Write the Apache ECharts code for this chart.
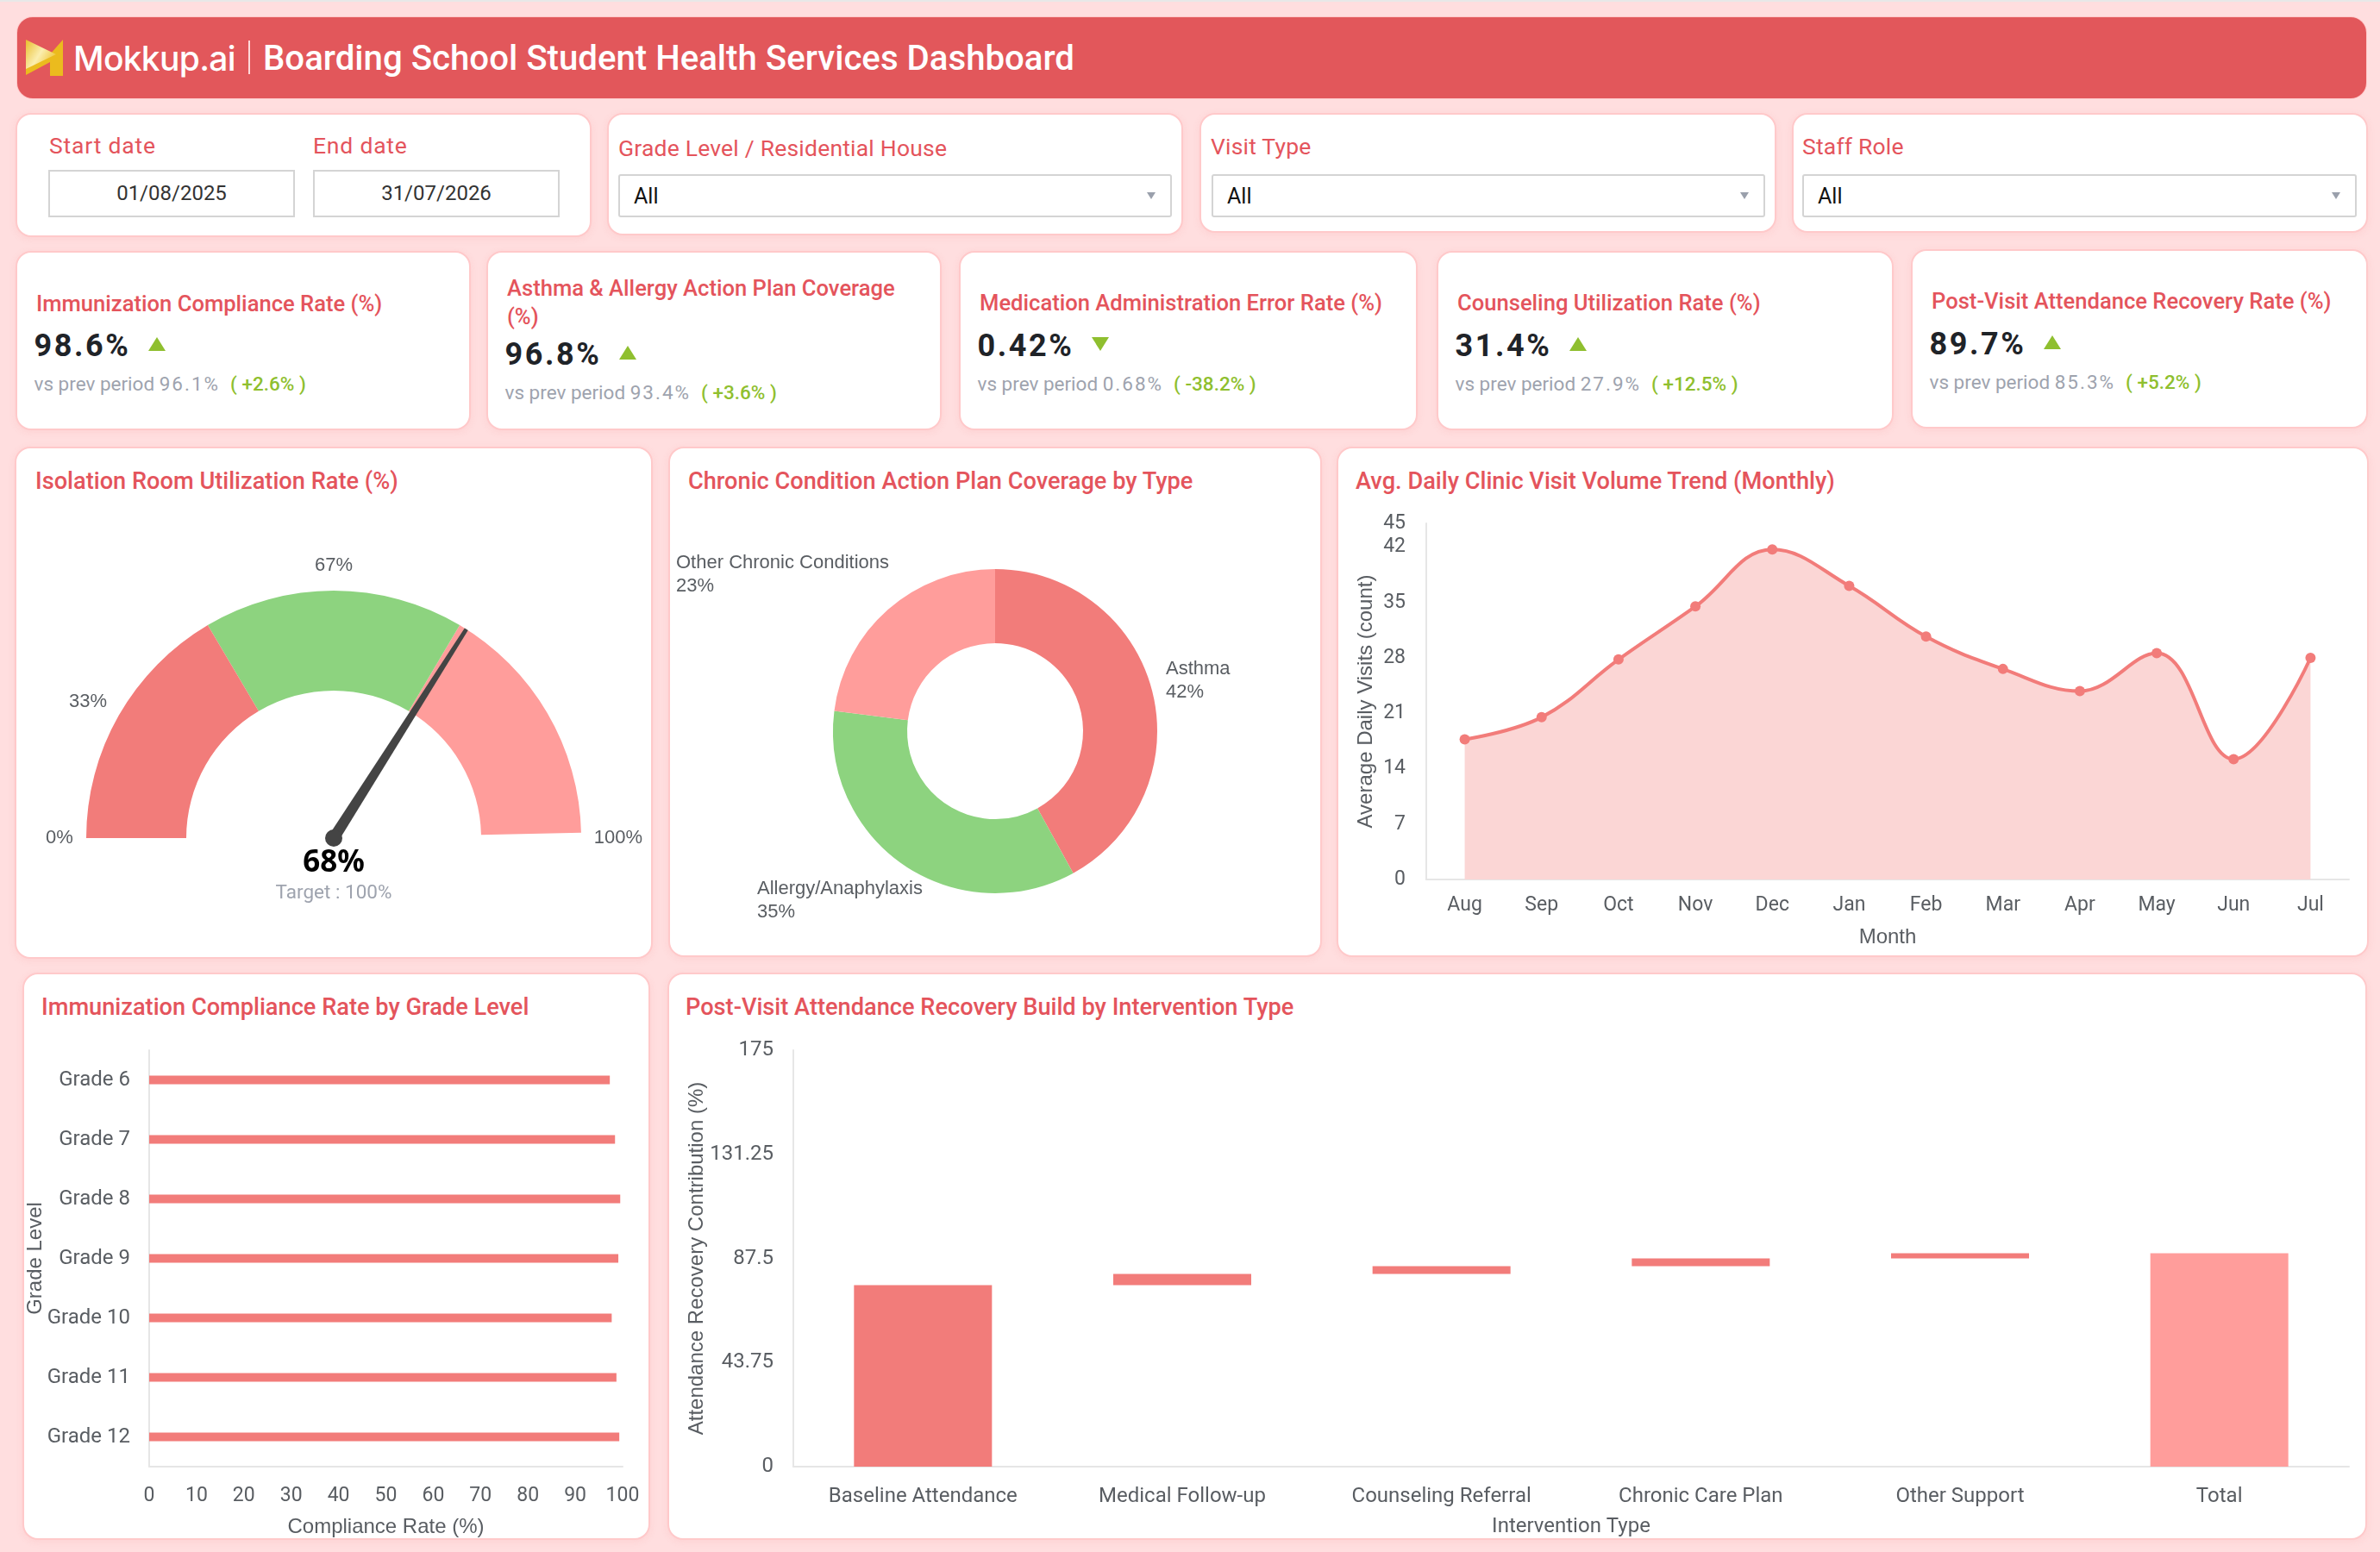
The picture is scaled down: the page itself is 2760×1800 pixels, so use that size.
<!DOCTYPE html>
<html>
<head>
<meta charset="utf-8">
<title>Boarding School Student Health Services Dashboard</title>
<script src="https://cdn.jsdelivr.net/npm/echarts@6/dist/echarts.min.js"></script>
<style>
	html, body { margin: 0; padding: 0; }
	body { width: 2760px; height: 1800px; position: relative; overflow: hidden; background: #ffdedf; font-family: Roboto, sans-serif; border-top: 2px solid #e8e8e8; box-sizing: border-box; }
	#page { position: absolute; left: 0; top: -2px; width: 2760px; height: 1800px; }
	.card { position: absolute; box-sizing: border-box; background: #fff; border: 2px solid #ffc9ca; border-radius: 18px; box-shadow: 0 2px 8px rgba(240, 120, 120, .12); }
	.txt { position: absolute; white-space: nowrap; line-height: 1; }
	.head { position: absolute; left: 20px; top: 20px; width: 2724px; height: 94px; box-sizing: border-box; background: #e2575b; border-radius: 18px; box-shadow: 0 0 0 1px #ffc9ca; }
	.ttl { font-size: 27.2px; font-weight: 500; color: #e4545c; }
	.kttl { font-size: 25.6px; font-weight: 500; color: #e4545c; }
	.flt { font-size: 26.5px; color: #e4545c; letter-spacing: .2px; }
	.box { position: absolute; box-sizing: border-box; background: #fff; border: 2px solid #d4d4d4; }
	.val { font-size: 36px; font-weight: 700; color: #1f2328; letter-spacing: 2.6px; }
	.sub { font-size: 22.5px; color: #9ea3ae; }
	.sub b { font-weight: 400; letter-spacing: 2px; }
	.sub i { font-style: normal; font-weight: 500; color: #8fbf2f; margin-left: 12px; }
	.chart { position: absolute; }
</style>
</head>
<body>
<div id="page"></div>
<script>
"use strict";

var RED = '#f27c7a', GREEN = '#8dd37f', PINK = '#ff9d9b', TICK = '#595d62', AXIS = '#e6e6e6';

var kpiNames = ['Immunization Compliance Rate (%)', 'Asthma & Allergy Action Plan Coverage<br>(%)', 'Medication Administration Error Rate (%)', 'Counseling Utilization Rate (%)', 'Post-Visit Attendance Recovery Rate (%)'];
var kpiValues = ['98.6%', '96.8%', '0.42%', '31.4%', '89.7%'];
var kpiPrev = ['96.1%', '93.4%', '0.68%', '27.9%', '85.3%'];
var kpiChange = ['+2.6%', '+3.6%', '-38.2%', '+12.5%', '+5.2%'];

var gaugeValue = [68];
var gaugeStops = [0.33, 0.67, 0.993, 1];
var gaugeTicks = ['0%', '33%', '67%', '100%'];

var coverageNames = ['Asthma', 'Allergy/Anaphylaxis', 'Other Chronic Conditions'];
var coverageValues = [42, 35, 23];

var months = ['Aug', 'Sep', 'Oct', 'Nov', 'Dec', 'Jan', 'Feb', 'Mar', 'Apr', 'May', 'Jun', 'Jul'];
var visits = [17.7, 20.5, 27.8, 34.5, 41.7, 37.1, 30.7, 26.6, 23.8, 28.6, 15.2, 28];

var grades = ['Grade 6', 'Grade 7', 'Grade 8', 'Grade 9', 'Grade 10', 'Grade 11', 'Grade 12'];
var compliance = [97.3, 98.4, 99.5, 99.1, 97.7, 98.7, 99.3];

var interventions = ['Baseline Attendance', 'Medical Follow-up', 'Counseling Referral', 'Chronic Care Plan', 'Other Support', 'Total'];
var recoveryOffset = [0, 76.3, 81, 84.2, 87.5, 0];
var recoveryStep = [76.3, 4.7, 3.2, 3.3, 2.2, 89.7];

var page = document.getElementById('page');

function el(cls, x, y, w, h) {
	var d = document.createElement('div');
	d.className = cls;
	d.style.left = x + 'px';
	d.style.top = y + 'px';
	if (w) d.style.width = w + 'px';
	if (h) d.style.height = h + 'px';
	page.appendChild(d);
	return d;
}

// text placed by its vertical centre
function text(cls, x, cy, html, size) {
	var d = el('txt ' + cls, x, cy);
	d.innerHTML = html;
	d.style.transform = 'translateY(-50%)';
	if (size) d.style.fontSize = size + 'px';
	return d;
}

function card(x, y, x2, y2) {
	return el('card', x - 2, y - 2, x2 - x + 4, y2 - y + 4);
}

function caret(x, y) {
	var d = el('', x - 6, y - 4);
	d.style.cssText += 'position:absolute;width:0;height:0;border-left:5px solid transparent;border-right:5px solid transparent;border-top:8px solid #9aa0ac;';
}

function select(label, lx, ly, x, x2) {
	text('flt', lx, ly, label);
	el('box', x, 202, x2 - x, 50).style.borderRadius = '3px';
	var all = text('', x + 18, 227, 'All', 25);
	all.style.color = '#111';
	caret(x2 - 23, 227);
}

// header
var head = document.createElement('div');
head.className = 'head';
page.appendChild(head);
var logo = el('', 30, 46, 44, 42);
logo.style.position = 'absolute';
logo.innerHTML = '<svg width="44" height="42" viewBox="0 0 44 42"><defs><linearGradient id="g" x1="0" y1="0" x2="1" y2=".6"><stop offset="0" stop-color="#e9bd2b"/><stop offset=".55" stop-color="#fbeeb0"/><stop offset="1" stop-color="#efc63a"/></linearGradient></defs><polygon points="43,0 43,42 28,42 28,26 0,41 0,24 13,17 28,17" fill="#ebbb1e"/><polygon points="0,0 35,17 0,34" fill="url(#g)"/></svg>';
var brand = text('', 85, 67, 'Mokkup.ai', 39);
brand.style.cssText += 'color:#fff;font-family:Inter,Roboto,sans-serif;font-weight:500;letter-spacing:-.7px;';
var rule = el('', 288, 47, 1, 39);
rule.style.cssText += 'position:absolute;background:#ffd9d9;width:2px;';
var title = text('', 305, 68, 'Boarding School Student Health Services Dashboard', 40.2);
title.style.cssText += 'color:#fff;font-weight:500;';

// filters
card(20, 133, 684, 273);
card(706, 133, 1370, 271);
card(1393, 133, 2058, 268);
card(2080, 133, 2744, 268);
text('flt', 57, 169, 'Start date').style.letterSpacing = '.8px';
text('flt', 363, 169, 'End date').style.letterSpacing = '.8px';
['01/08/2025', '31/07/2026'].forEach(function (date, i) {
	var x = i ? 363 : 56;
	var box = el('box', x, 197, 286, 55);
	box.style.cssText += 'font-size:24px;color:#333;line-height:51px;text-align:center;';
	box.textContent = date;
});
select('Grade Level / Residential House', 717, 172, 717, 1359);
select('Visit Type', 1404, 170, 1405, 2047);
select('Staff Role', 2090, 170, 2090, 2733);

// kpi cards
var kpiBox = [[20, 544, 293, 497], [566, 1090, 293, 497], [1114, 1642, 293, 497], [1668, 2194, 293, 497], [2218, 2744, 291, 495]];
var kpiLeft = [40, 586, 1134, 1688, 2238];
var kpiTitleY = [352, 335, 351, 351, 349];
var kpiValueY = [399, 409, 399, 399, 397];
var kpiUp = [true, true, false, true, true];
var valueRight = [182, 728, 1276, 1830, 2380];

kpiNames.forEach(function (name, i) {
	var b = kpiBox[i], x = kpiLeft[i], t;
	card(b[0], b[2], b[1], b[3]);
	t = text('kttl', x + 2, kpiTitleY[i], name);
	t.style.lineHeight = '33px';
	if (i === 1) t.style.top = '318px', t.style.transform = 'none';
	text('val', x - 0.5, kpiValueY[i] + 1.5, kpiValues[i]);
	var a = el('', valueRight[i] - 10, kpiValueY[i] - 8);
	a.style.cssText += 'position:absolute;width:0;height:0;border-left:10px solid transparent;border-right:10px solid transparent;';
	a.style[kpiUp[i] ? 'borderBottom' : 'borderTop'] = '16px solid #8fbf2f';
	text('sub', x - 0.5, kpiValueY[i] + 46, 'vs prev period <b>' + kpiPrev[i] + '</b><i>( ' + kpiChange[i] + ' )</i>');
});

// chart cards
var boxes = {
	gauge: [19, 520, 755, 1110],
	pie: [777, 520, 1531, 1108],
	line: [1552, 520, 2745, 1108],
	bar: [28, 1130, 752, 1784],
	fall: [776, 1130, 2743, 1784]
};

function chartIn(b, heading, tx, ty) {
	card(b[0], b[1], b[2], b[3]);
	text('ttl', tx, ty, heading);
	var d = el('chart', b[0], b[1], b[2] - b[0], b[3] - b[1]);
	return echarts.init(d);
}

function axisFont(size) {
	return { color: TICK, fontFamily: 'Roboto', fontSize: size || 23 };
}

function nameFont() {
	return { color: TICK, fontFamily: 'Liberation Sans', fontSize: 24 };
}

var tickSpots = [[50, 452], [83, 294], [368, 136], [698, 452]];
var gauge = chartIn(boxes.gauge, 'Isolation Room Utilization Rate (%)', 41, 558.5);
gauge.setOption({
	animation: false,
	graphic: gaugeTicks.map(function (t, i) {
		return {
			type: 'text', x: tickSpots[i][0], y: tickSpots[i][1],
			style: { text: t, align: 'center', verticalAlign: 'middle', fill: TICK, font: '22px "Liberation Sans"' }
		};
	}),
	series: [{
		type: 'gauge', center: [368, 452], radius: 287, startAngle: 180, endAngle: 0,
		min: 0, max: 100,
		axisLine: { lineStyle: { width: 116, color: [[gaugeStops[0], RED], [gaugeStops[1], GREEN], [gaugeStops[2], PINK], [gaugeStops[3], 'rgba(0,0,0,0)']] } },
		axisTick: { show: false }, splitLine: { show: false }, axisLabel: { show: false },
		pointer: { icon: 'path://M3.2,0 L6.8,0 L10,100 L0,100 Z', length: '100%', width: 13, itemStyle: { color: '#444' } },
		anchor: { show: true, showAbove: true, size: 20, itemStyle: { color: '#444' } },
		title: { offsetCenter: [0, 64], color: '#9ea3ae', fontFamily: 'Roboto', fontSize: 22.5 },
		detail: { offsetCenter: [0, 29], formatter: '{value}%', color: '#000', fontFamily: 'Noto Sans', fontWeight: 700, fontSize: 35 },
		data: [{ value: gaugeValue[0], name: 'Target : 100%' }]
	}]
});

var labelSpots = [{ x: 575, y: 269 }, { x: 101, y: 524.5 }, { x: 7, y: 146 }];
var pie = chartIn(boxes.pie, 'Chronic Condition Action Plan Coverage by Type', 798, 558.5);
pie.setOption({
	animation: false,
	series: [{
		type: 'pie', center: [377, 328], radius: [102, 188], startAngle: 90, clockwise: true,
		color: [RED, GREEN, PINK],
		label: { formatter: '{b}\n{c}%', overflow: 'none', color: TICK, fontFamily: 'Liberation Sans', fontSize: 22, lineHeight: 27 },
		labelLine: { show: false },
		labelLayout: function (p) {
			var s = labelSpots[p.dataIndex];
			return { x: s.x, y: s.y, align: 'left', verticalAlign: 'middle' };
		},
		data: coverageNames.map(function (n, i) {
			return { name: n, value: coverageValues[i] };
		})
	}]
});

var line = chartIn(boxes.line, 'Avg. Daily Clinic Visit Volume Trend (Monthly)', 1572, 558.5);
line.setOption({
	animation: false,
	grid: { left: 102, right: 21, top: 87, bottom: 88, outerBoundsMode: 'none' },
	xAxis: {
		type: 'category', data: months, name: 'Month', nameLocation: 'middle', nameGap: 55, nameMoveOverlap: false, nameTextStyle: nameFont(),
		axisTick: { show: false }, axisLine: { lineStyle: { color: AXIS, width: 2 } },
		axisLabel: Object.assign(axisFont(), { margin: 19, interval: 0 })
	},
	yAxis: {
		type: 'value', min: 0, max: 45, interval: 7, name: 'Average Daily Visits (count)', nameLocation: 'middle', nameGap: 58, nameMoveOverlap: false, nameTextStyle: nameFont(),
		splitLine: { show: false }, axisTick: { show: false },
		axisLine: { show: true, lineStyle: { color: AXIS, width: 2 } },
		axisLabel: Object.assign(axisFont(), { margin: 24 })
	},
	series: [{
		type: 'line', data: visits, smooth: 0.4, symbol: 'circle', symbolSize: 12,
		lineStyle: { color: RED, width: 4 }, itemStyle: { color: RED },
		areaStyle: { color: '#fbd6d5', opacity: 1 }
	}]
});

var bar = chartIn(boxes.bar, 'Immunization Compliance Rate by Grade Level', 48, 1168.5);
bar.setOption({
	animation: false,
	grid: { left: 145, right: 30, top: 88, bottom: 83, outerBoundsMode: 'none' },
	xAxis: {
		type: 'value', min: 0, max: 100, interval: 10, name: 'Compliance Rate (%)', nameLocation: 'middle', nameGap: 58, nameMoveOverlap: false, nameTextStyle: nameFont(),
		splitLine: { show: false }, axisTick: { show: false },
		axisLine: { show: true, lineStyle: { color: AXIS, width: 2 } },
		axisLabel: Object.assign(axisFont(), { margin: 23 })
	},
	yAxis: {
		type: 'category', data: grades, inverse: true, name: 'Grade Level', nameLocation: 'middle', nameGap: 120, nameMoveOverlap: false, nameTextStyle: nameFont(),
		axisTick: { show: false }, axisLine: { lineStyle: { color: AXIS, width: 2 } },
		axisLabel: Object.assign(axisFont(24), { margin: 22, interval: 0 })
	},
	series: [{ type: 'bar', data: compliance, barWidth: 10, itemStyle: { color: RED } }]
});

var fall = chartIn(boxes.fall, 'Post-Visit Attendance Recovery Build by Intervention Type', 795, 1168.5);
fall.setOption({
	animation: false,
	grid: { left: 144, right: 19, top: 88, bottom: 83, outerBoundsMode: 'none' },
	xAxis: {
		type: 'category', data: interventions, name: 'Intervention Type', nameLocation: 'middle', nameGap: 58, nameMoveOverlap: false, nameTextStyle: axisFont(24),
		axisTick: { show: false }, axisLine: { lineStyle: { color: AXIS, width: 2 } },
		axisLabel: Object.assign(axisFont(24), { margin: 23, interval: 0 })
	},
	yAxis: {
		type: 'value', min: 0, max: 175, interval: 43.75, name: 'Attendance Recovery Contribution (%)', nameLocation: 'middle', nameGap: 100, nameMoveOverlap: false, nameTextStyle: nameFont(),
		splitLine: { show: false }, axisTick: { show: false },
		axisLine: { show: true, lineStyle: { color: AXIS, width: 2 } },
		axisLabel: Object.assign(axisFont(24), { margin: 23 })
	},
	series: [
		{ type: 'bar', stack: 'build', data: recoveryOffset, barWidth: 160, silent: true, itemStyle: { color: 'rgba(0,0,0,0)' } },
		{
			type: 'bar', stack: 'build', data: recoveryStep, barWidth: 160,
			itemStyle: { color: function (p) { return p.dataIndex === interventions.length - 1 ? PINK : RED; } }
		}
	]
});
</script>
</body>
</html>
